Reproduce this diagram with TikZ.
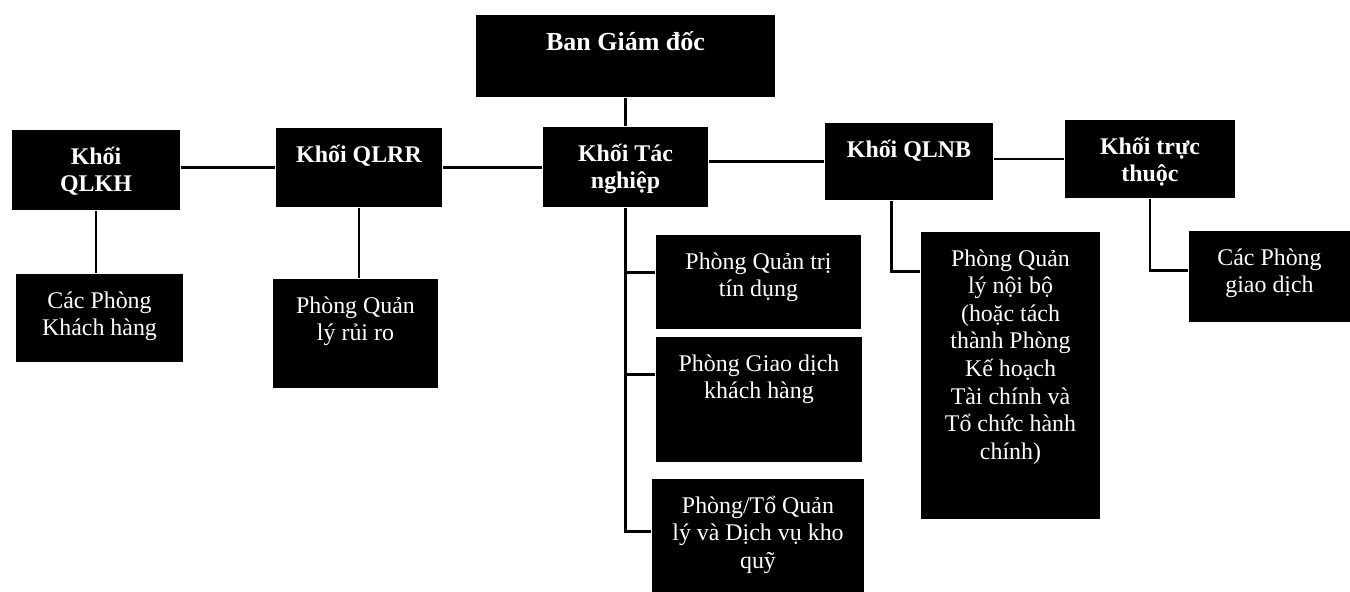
\documentclass[tikz,border=0pt]{standalone}
\usepackage{fontspec}
\setmainfont{Liberation Serif}
\usetikzlibrary{arrows}
\newlength{\pxu}
\setlength{\pxu}{0.025cm}
\newcommand{\boxtext}[3]{\parbox[c][#2\pxu][t]{#1\pxu}{\lineskiplimit=-20pt\vspace*{15\pxu}\centering\strut #3}}

\begin{document}
\begin{tikzpicture}
[-, line width=1.8pt, x=0.025cm, y=-0.025cm,
block/.style={rectangle, fill=black, text=white, inner sep=0pt, font={\fontsize{17}{19.6}\selectfont}},
head/.style={block, font={\bfseries\fontsize{17}{19.6}\selectfont}}]
\useasboundingbox (0,0) rectangle (1350,592);
    \node[head,font={\bfseries\fontsize{18.5}{21}\selectfont}] (ban) at (625.5,56) {\boxtext{299}{82}{Ban Giám đốc}};
    \node[head] (qlkh) at (96,170) {\boxtext{168}{80}{Khối\\QLKH}};
    \node[head] (qlrr) at (359,167.5) {\boxtext{166}{79}{Khối QLRR}};
    \node[head] (tacnghiep) at (625.5,167) {\boxtext{165}{80}{Khối Tác\\nghiệp}};
    \node[head] (qlnb) at (909,161.5) {\boxtext{168}{77}{Khối QLNB}};
    \node[head] (tructhuoc) at (1150,159) {\boxtext{170}{78}{Khối trực\\thuộc}};
    % cac phong ben duoi
    \node[block] (pkh) at (99.5,318) {\boxtext{167}{88}{Các Phòng\\Khách hàng}};
    \node[block] (prr) at (355.5,333.5) {\boxtext{165}{109}{Phòng Quản\\lý rủi ro}};
    \node[block] (pqttd) at (758.5,282) {\boxtext{205}{94}{Phòng Quản trị\\tín dụng}};
    \node[block] (pgdkh) at (759,399.5) {\boxtext{206}{125}{Phòng Giao dịch\\khách hàng}};
    \node[block] (pkq) at (758,535.5) {\boxtext{212}{113}{Phòng/Tổ Quản\\lý và Dịch vụ kho\\quỹ}};
    \node[block] (pqlnb) at (1010.5,375.5) {\boxtext{179}{287}{Phòng Quản\\lý nội bộ\\(hoặc tách\\thành Phòng\\Kế hoạch\\Tài chính và\\Tổ chức hành\\chính)}};
    \node[block] (ppgd) at (1269.5,276.5) {\boxtext{161}{91}{Các Phòng\\giao dịch}};
    \path (ban) edge (tacnghiep);
    \draw (qlkh.east |- qlrr.west) -- (qlrr.west);
    \draw (qlrr.east) -- (qlrr.east -| tacnghiep.west);
    \draw (tacnghiep.east |- qlnb.west) -- (qlnb.west);
    \draw (qlnb.east |- tructhuoc.west) -- (tructhuoc.west);
    \draw (qlkh.south) -- (qlkh.south |- pkh.north);
    \draw (qlrr.south) -- (qlrr.south |- prr.north);
    \draw (tacnghiep.south) |- ([yshift=-0.975cm]pqttd.north west);
    \draw (tacnghiep.south) |- ([yshift=-0.975cm]pgdkh.north west);
    \draw (tacnghiep.south) |- ([yshift=-1.35cm]pkq.north west);
    \draw ([xshift=1.7cm]qlnb.south west) |- ([yshift=-1.025cm]pqlnb.north west);
    \draw (tructhuoc.south) |- ([yshift=-1.025cm]ppgd.north west);
\end{tikzpicture}
\end{document}
